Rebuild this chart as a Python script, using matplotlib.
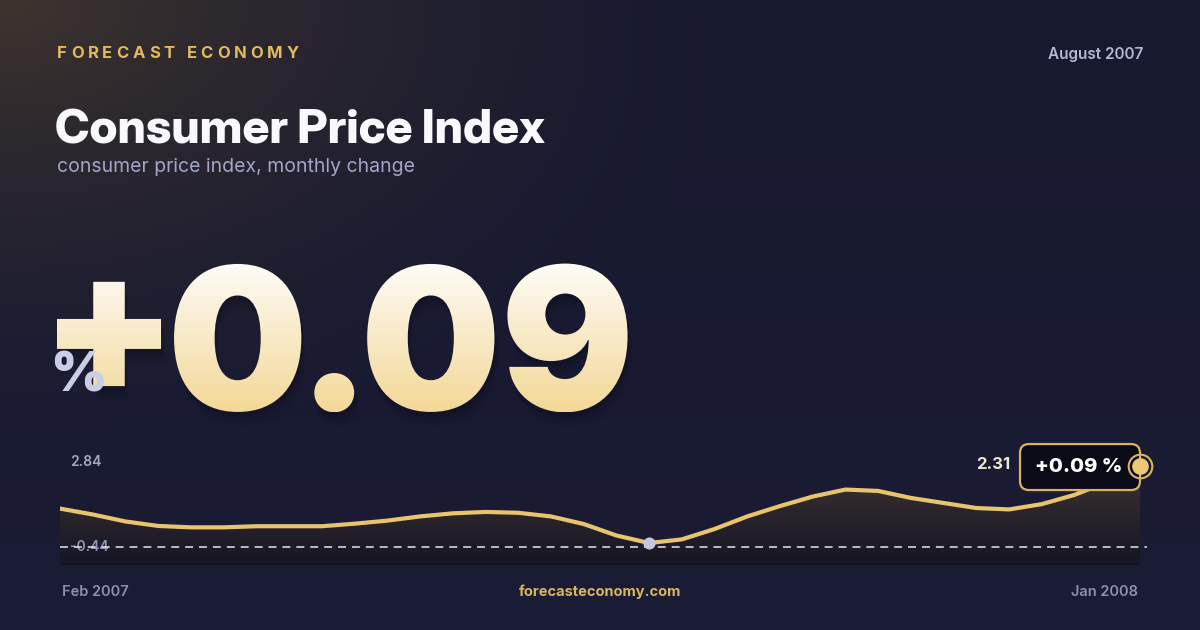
import numpy as np
import matplotlib
matplotlib.use("Agg")
import matplotlib.pyplot as plt
import matplotlib.transforms as mtransforms
from matplotlib.textpath import TextPath
from matplotlib.font_manager import FontProperties
from matplotlib.path import Path
from matplotlib.patches import PathPatch, FancyBboxPatch

# ---- data ----
cpi = [0.79, 0.58, 0.33, 0.17, 0.12, 0.12, 0.16, 0.16, 0.16, 0.25, 0.36, 0.51,
       0.62, 0.67, 0.64, 0.51, 0.24, -0.17, -0.44, -0.31, 0.06, 0.51, 0.88, 1.22,
       1.47, 1.42, 1.17, 0.99, 0.81, 0.76, 0.95, 1.28, 1.74, 2.31]
scale_max = 2.84
headline = "+0.09"
change_label = "+0.09 %"
period = "August 2007"
start_label = "Feb 2007"
end_label = "Jan 2008"
brand = "FORECAST ECONOMY"
site = "forecasteconomy.com"
title = "Consumer Price Index"
subtitle = "consumer price index, monthly change"

W, H = 1200, 630
GOLD = "#e8c46e"

fig = plt.figure(figsize=(12, 6.3), dpi=100)
renderer = fig.canvas.get_renderer()

# background axes in pixel coords (y down)
bg = fig.add_axes([0, 0, 1, 1])
bg.set_xlim(0, W)
bg.set_ylim(H, 0)
bg.axis("off")

yy, xx = np.mgrid[0:H, 0:W]
base_top = np.array([23, 25, 46]) / 255
base_bot = np.array([27, 28, 53]) / 255
vy = (yy / H)[..., None]
img = base_top * (1 - vy) + base_bot * vy
warm = np.array([62, 52, 46]) / 255
d = np.sqrt((xx / 760.0) ** 2 + (yy / 450.0) ** 2)
w = (np.clip(1 - d, 0, 1) ** 1.5)[..., None]
img = img * (1 - w) + warm * w
bg.imshow(img, extent=(0, W, H, 0), aspect="auto", zorder=0)


def tracked_text(ax, x, y, s, tracking, **kw):
    # draw s one char at a time, with extra spacing between chars
    probe = ax.text(0, 0, "", **kw)
    for i, ch in enumerate(s):
        probe.set_text(s[:i + 1])
        full = probe.get_window_extent(renderer).width
        probe.set_text(ch)
        one = probe.get_window_extent(renderer).width
        if ch != " ":
            ax.text(x + full - one + i * tracking, y, ch, **kw)
    probe.remove()


# header
tracked_text(bg, 57, 53, brand, 3.9, fontsize=12, family="Inter",
             weight="bold", color="#e2ba60", va="center", ha="left")
bg.text(1143, 54, period, fontsize=11, family="Inter", weight="semibold",
        color="#b3b7d3", va="center", ha="right")
bg.text(55, 143, title, fontsize=34, family="Inter Display", weight="heavy",
        color="#f8f8fd", va="baseline", ha="left")
bg.text(57, 172, subtitle, fontsize=14, family="Inter", color="#a2a6c6",
        va="baseline", ha="left")

# big number: glyph paths with a vertical gradient
prop = FontProperties(family="Inter", weight=900)
glyphs = [TextPath((0, 0), ch, size=1, prop=prop) for ch in headline]
e0 = TextPath((0, 0), "0", size=1, prop=prop).get_extents()
S = 148 / e0.height
baseline = 410
digit_mid_px = baseline - (e0.y0 + e0.y1) / 2 * S
cursor, gap = 57, 13
parts = []
for ch, g in zip(headline, glyphs):
    ext = g.get_extents()
    v = g.vertices.copy()
    v[:, 0] = cursor + (v[:, 0] - ext.x0) * S
    if ch == "+":
        # the plus sits a little above the digit middle
        v[:, 1] = digit_mid_px - 4 - (v[:, 1] - (ext.y0 + ext.y1) / 2) * S
    else:
        v[:, 1] = baseline - v[:, 1] * S
    parts.append(Path(v, g.codes))
    cursor += ext.width * S + gap
num_path = Path.make_compound_path(*parts)

for k, a in [(14, 0.06), (9, 0.09), (5, 0.12)]:
    sh = num_path.transformed(mtransforms.Affine2D().translate(k * 0.3, k))
    bg.add_patch(PathPatch(sh, facecolor="#05050e", edgecolor="none", alpha=a, zorder=2))

grad = np.linspace(0, 1, 200)[:, None, None]
top_c = np.array([254, 253, 250]) / 255
bot_c = np.array([243, 216, 150]) / 255
gimg = top_c * (1 - grad) + bot_c * grad
im = bg.imshow(gimg, extent=(40, 660, 412, 258), aspect="auto", zorder=3)
im.set_clip_path(PathPatch(num_path, transform=bg.transData))

bg.text(50, 392, "%", fontsize=39, family="Inter", weight="black",
        color="#c9cde6", va="baseline", ha="left", zorder=4)

# footer
for xpos, s, ha, col, wt in [(62, start_label, "left", "#8c90b0", "semibold"),
                             (600, site, "center", "#d8b660", "bold"),
                             (1138, end_label, "right", "#8c90b0", "semibold")]:
    bg.text(xpos, 596, s, fontsize=10.5, family="Inter", weight=wt,
            color=col, va="baseline", ha=ha)

# ---- sparkline ----
ax = fig.add_axes([60 / W, (H - 565) / H, 1080 / W, 125 / H])
ax.axis("off")
ax.patch.set_alpha(0)
x = np.arange(len(cpi))
ylo, yhi = -1.225, 3.24
ax.set_xlim(0, len(cpi) - 1)
ax.set_ylim(ylo, yhi)

poly = ax.fill_between(x, cpi, ylo, facecolor="none", edgecolor="none")
fgrad = np.linspace(0, 1, 200)[:, None, None]
f_bot = np.array([21, 21, 37]) / 255
f_top = np.array([72, 60, 52]) / 255
fimg = f_bot * (1 - fgrad) + f_top * fgrad
fim = ax.imshow(fimg, extent=(0, len(cpi) - 1, ylo, yhi), origin="lower",
                aspect="auto", zorder=1)
fim.set_clip_path(poly.get_paths()[0], ax.transData)

vmin = min(cpi)
imin = int(np.argmin(cpi))
low_tr = mtransforms.offset_copy(ax.transData, fig, y=-3.5, units="dots")
ax.plot([0, len(cpi) - 0.8], [vmin, vmin], color="#e6e6ee", lw=1.1,
        dashes=(5.2, 3.9), zorder=3, clip_on=False, transform=low_tr)
ax.plot(x, cpi, color=GOLD, lw=3, solid_joinstyle="round", zorder=4)
ax.plot(imin, vmin, "o", ms=7.7, color="#c3c7df", zorder=5)

low_lab = mtransforms.blended_transform_factory(ax.transAxes, low_tr)
ax.text(10 / 1080, vmin, f"{vmin:.2f}", transform=low_lab,
        fontsize=10, family="Inter", weight="semibold", color="#9094b8",
        va="center", ha="left", zorder=2.5)
bg.text(70, 462, f"{scale_max:.2f}", fontsize=10, family="Inter",
        weight="semibold", color="#a3a6c4", va="center", ha="left")

# end-point callout
px, py = ax.transData.transform((len(cpi) - 1, cpi[-1]))
py = H - py
ax.add_patch(FancyBboxPatch((px - 120, py - 22), 120, 46,
                            boxstyle="round,pad=0,rounding_size=9",
                            transform=bg.transData, facecolor="#0a0b17",
                            edgecolor="#d9b35c", lw=1.6, zorder=6, clip_on=False))
ax.text(px - 61, py + 6, change_label, transform=bg.transData, fontsize=14.5,
        family="Inter", weight="heavy", color="#ffffff", va="baseline",
        ha="center", zorder=7)
ax.text(px - 130, py + 3, f"{cpi[-1]:.2f}", transform=bg.transData,
        fontsize=12, family="Inter", weight="bold", color="#f0e7d3",
        va="baseline", ha="right", zorder=7)
ax.plot(len(cpi) - 1, cpi[-1], "o", ms=17, mfc="none", mec="#dcb45c",
        mew=1.5, zorder=8, clip_on=False)
ax.plot(len(cpi) - 1, cpi[-1], "o", ms=11, color="#ecc774", zorder=9,
        clip_on=False)

fig.savefig("out.png", dpi=100)
